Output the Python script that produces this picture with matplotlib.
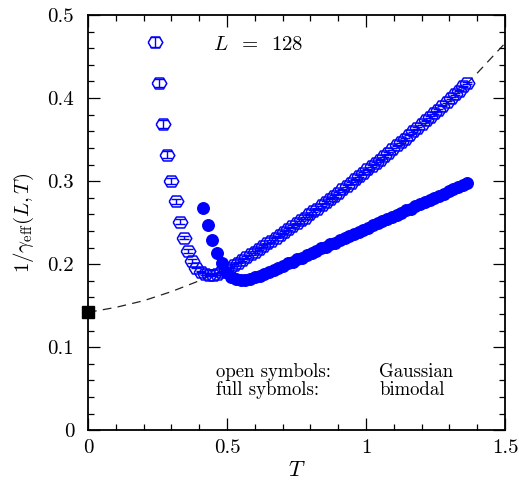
import numpy as np
import matplotlib
matplotlib.use("Agg")
import matplotlib.pyplot as plt
from matplotlib.ticker import MultipleLocator, FuncFormatter

plt.rcParams['mathtext.fontset'] = 'cm'
plt.rcParams['font.family'] = ['cmr10', 'DejaVu Serif']
plt.rcParams['axes.formatter.use_mathtext'] = True

# data: Gaussian couplings (open symbols)
T_gauss = [0.240, 0.255, 0.270, 0.285, 0.300, 0.315, 0.330, 0.345, 0.360, 0.375,
           0.390, 0.405, 0.420, 0.435, 0.450, 0.465, 0.480, 0.495, 0.510, 0.525,
           0.540, 0.555, 0.570, 0.585, 0.600, 0.615, 0.630, 0.645, 0.660, 0.675,
           0.690, 0.705, 0.720, 0.735, 0.750, 0.765, 0.780, 0.795, 0.810, 0.825,
           0.840, 0.855, 0.870, 0.885, 0.900, 0.915, 0.930, 0.945, 0.960, 0.975,
           0.990, 1.005, 1.020, 1.035, 1.050, 1.065, 1.080, 1.095, 1.110, 1.125,
           1.140, 1.155, 1.170, 1.185, 1.200, 1.215, 1.230, 1.245, 1.260, 1.275,
           1.290, 1.305, 1.320, 1.335, 1.350, 1.365]
inv_gamma_gauss = [0.468, 0.418, 0.369, 0.332, 0.300, 0.276, 0.251, 0.232, 0.216, 0.204,
                   0.196, 0.191, 0.188, 0.187, 0.187, 0.188, 0.190, 0.193, 0.196, 0.199,
                   0.202, 0.205, 0.209, 0.212, 0.215, 0.218, 0.222, 0.225, 0.228, 0.232,
                   0.235, 0.239, 0.242, 0.246, 0.249, 0.253, 0.256, 0.260, 0.264, 0.267,
                   0.271, 0.275, 0.279, 0.282, 0.286, 0.290, 0.294, 0.298, 0.302, 0.306,
                   0.310, 0.314, 0.318, 0.322, 0.326, 0.330, 0.334, 0.339, 0.343, 0.347,
                   0.351, 0.356, 0.360, 0.364, 0.369, 0.373, 0.377, 0.382, 0.386, 0.391,
                   0.395, 0.400, 0.405, 0.409, 0.414, 0.418]
err_gauss = [0.006, 0.005, 0.005, 0.004, 0.004, 0.003, 0.003, 0.002, 0.002, 0.002] + [0.001] * 66

# bimodal couplings (full symbols)
T_bimod = [0.413, 0.430, 0.447, 0.464, 0.481, 0.498, 0.515, 0.532, 0.549, 0.566,
           0.583, 0.600, 0.617, 0.634, 0.651, 0.668, 0.685, 0.702, 0.719, 0.736,
           0.753, 0.770, 0.787, 0.804, 0.821, 0.838, 0.855, 0.872, 0.889, 0.906,
           0.923, 0.940, 0.957, 0.974, 0.991, 1.008, 1.025, 1.042, 1.059, 1.076,
           1.093, 1.110, 1.127, 1.144, 1.161, 1.178, 1.195, 1.212, 1.229, 1.246,
           1.263, 1.280, 1.297, 1.314, 1.331, 1.348, 1.365]
inv_gamma_bimod = [0.268, 0.247, 0.229, 0.213, 0.201, 0.191, 0.185, 0.182, 0.181, 0.181,
                   0.182, 0.184, 0.186, 0.188, 0.191, 0.193, 0.196, 0.198, 0.201, 0.203,
                   0.206, 0.208, 0.211, 0.214, 0.216, 0.219, 0.221, 0.224, 0.226, 0.229,
                   0.231, 0.234, 0.236, 0.239, 0.241, 0.244, 0.247, 0.249, 0.252, 0.254,
                   0.257, 0.259, 0.262, 0.265, 0.267, 0.270, 0.272, 0.275, 0.277, 0.280,
                   0.282, 0.285, 0.288, 0.290, 0.293, 0.295, 0.298]

# fit curve (dashed) and T=0 value
T_fit = [0.0, 0.1, 0.2, 0.3, 0.4, 0.5, 0.6, 0.7, 0.8, 0.9, 1.0, 1.1, 1.2, 1.3, 1.4, 1.5]
inv_gamma_fit = [0.142, 0.148, 0.156, 0.167, 0.180, 0.195, 0.213, 0.233, 0.255, 0.279,
                 0.306, 0.334, 0.364, 0.396, 0.430, 0.466]
T_zero = [0.0]
inv_gamma_zero = [0.142]

fig = plt.figure(figsize=(5.19, 4.87), dpi=100)
ax = fig.add_axes([0.1696, 0.1164, 0.8034, 0.8528])

hexagon = [(-1.0, 0.0), (-0.55, 0.75), (0.55, 0.75), (1.0, 0.0), (0.55, -0.75), (-0.55, -0.75), (-1.0, 0.0)]

ax.plot(T_fit, inv_gamma_fit, color='#222222', lw=0.9, dashes=(7, 5), zorder=1)

ax.errorbar(T_gauss, inv_gamma_gauss, yerr=err_gauss, fmt='none', ecolor='blue',
            elinewidth=1.0, capsize=3.8, capthick=1.0, zorder=2)
ax.plot(T_gauss, inv_gamma_gauss, ls='none', marker=hexagon, ms=10.5, mfc='none',
        mec='blue', mew=1.1, zorder=3)
ax.plot(T_bimod, inv_gamma_bimod, ls='none', marker='o', ms=8.3, mfc='blue',
        mec='blue', zorder=4)
ax.plot(T_zero, inv_gamma_zero, ls='none', marker='s', ms=8.5, color='black',
        clip_on=False, zorder=5)

ax.set_xlim(0, 1.5)
ax.set_ylim(0, 0.5)
ax.xaxis.set_major_locator(MultipleLocator(0.5))
ax.xaxis.set_minor_locator(MultipleLocator(0.1))
ax.yaxis.set_major_locator(MultipleLocator(0.1))
ax.yaxis.set_minor_locator(MultipleLocator(0.02))
fmt = FuncFormatter(lambda v, p: '%g' % round(v, 3))
ax.xaxis.set_major_formatter(fmt)
ax.yaxis.set_major_formatter(fmt)
ax.tick_params(which='both', direction='in', top=True, right=True, labelsize=15, width=0.9)
ax.tick_params(which='major', length=8.5)
ax.tick_params(which='minor', length=4.2)
ax.tick_params(axis='x', pad=6)
ax.tick_params(axis='y', pad=10)
for s in ax.spines.values():
    s.set_linewidth(1.3)

ax.set_xlabel('$T$', fontsize=16, labelpad=3)
ax.set_ylabel(r'$1/\gamma_{\rm eff}(L,T)$', fontsize=15, labelpad=8)

ax.text(0.45, 0.464, '$L$  =  128', fontsize=15, va='center')
ax.text(0.46, 0.0705, 'open symbols:', fontsize=13.5, va='center')
ax.text(1.047, 0.0705, 'Gaussian', fontsize=13.5, va='center')
ax.text(0.46, 0.0485, 'full sybmols:', fontsize=13.5, va='center')
ax.text(1.047, 0.0485, 'bimodal', fontsize=13.5, va='center')

fig.savefig('out.png', dpi=100)
